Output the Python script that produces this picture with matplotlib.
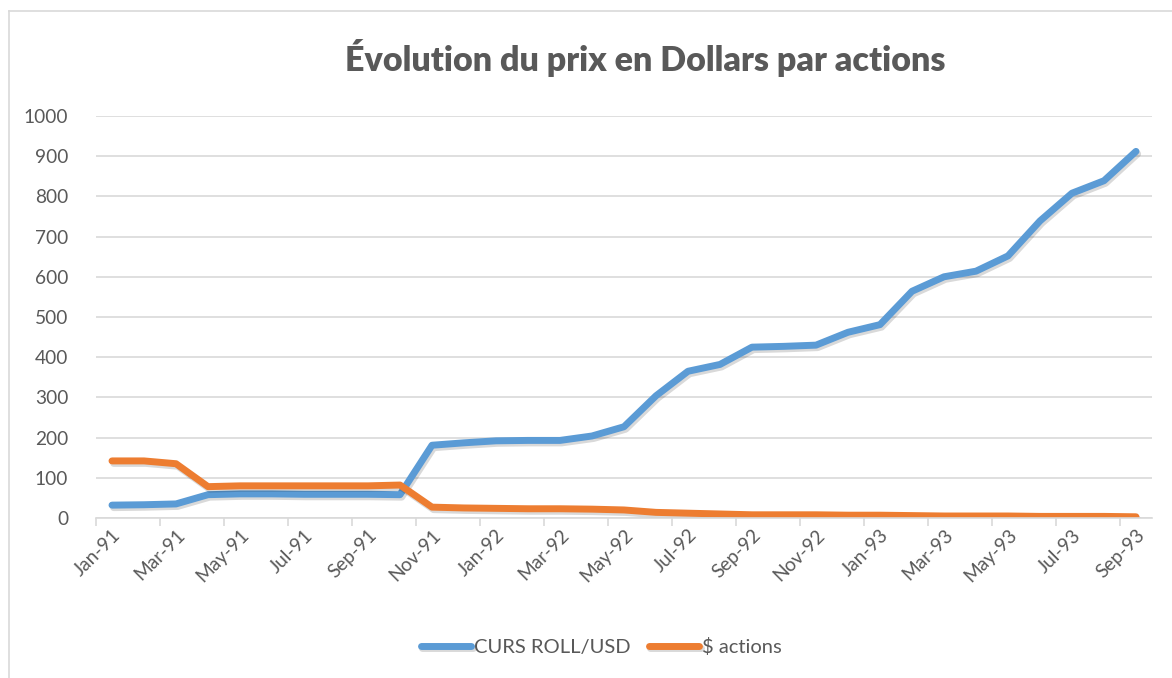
import numpy as np
import matplotlib
matplotlib.use('Agg')
import matplotlib.pyplot as plt
import matplotlib.patheffects as pe
from matplotlib.lines import Line2D

# Data
months = ['Jan-91', 'Feb-91', 'Mar-91', 'Apr-91', 'May-91', 'Jun-91', 'Jul-91', 'Aug-91',
          'Sep-91', 'Oct-91', 'Nov-91', 'Dec-91', 'Jan-92', 'Feb-92', 'Mar-92', 'Apr-92',
          'May-92', 'Jun-92', 'Jul-92', 'Aug-92', 'Sep-92', 'Oct-92', 'Nov-92', 'Dec-92',
          'Jan-93', 'Feb-93', 'Mar-93', 'Apr-93', 'May-93', 'Jun-93', 'Jul-93', 'Aug-93',
          'Sep-93']
curs_roll_usd = [32, 33, 35, 58, 60, 60, 59, 59, 59, 58, 181, 187, 192, 193, 193, 204,
                 227, 304, 365, 382, 425, 427, 430, 462, 481, 564, 600, 614, 652, 739,
                 808, 839, 912]
dollar_actions = [142, 142, 135, 78, 80, 80, 80, 80, 80, 82, 27, 25, 24, 23, 23, 22,
                  20, 14, 12, 10, 8, 8, 8, 7, 7, 6, 5, 5, 5, 4, 4, 4, 3]

series_names = ['CURS ROLL/USD', '$ actions']
colors = ['#5B9BD5', '#ED7D31']
text_color = '#595959'
grid_color = '#D9D9D9'

plt.rcParams['font.family'] = ['Lato', 'DejaVu Sans']

fig = plt.figure(figsize=(11.72, 6.78), dpi=100)
ax = fig.add_axes([96 / 1172, 1 - 518 / 678, 1056 / 1172, 402 / 678])

x = np.arange(len(months))
shadow = [pe.SimpleLineShadow(offset=(1.2, -1.8), shadow_color='black', alpha=0.15),
          pe.Normal()]
for vals, name, c in zip([curs_roll_usd, dollar_actions], series_names, colors):
    ax.plot(x, vals, color=c, lw=5, solid_capstyle='round', solid_joinstyle='round',
            label=name, path_effects=shadow)

ax.set_xlim(-0.5, len(months) - 0.5)
ax.set_ylim(0, 1000)
ax.set_yticks(range(0, 1001, 100))
ax.grid(axis='y', color=grid_color, lw=1.2)
ax.set_axisbelow(True)

ax.set_xticks(x[::2])
ax.set_xticklabels(months[::2], rotation=45, ha='right', va='top', rotation_mode='anchor')
ax.set_xticks(np.arange(-0.5, len(months) - 1, 2), minor=True)
ax.tick_params(axis='x', which='major', length=0, pad=6, labelsize=13.8, labelcolor=text_color)
ax.tick_params(axis='x', which='minor', length=6, width=1.2, color=grid_color)
ax.tick_params(axis='y', length=0, pad=20, labelsize=13.8, labelcolor=text_color)

for s in ['left', 'right', 'top']:
    ax.spines[s].set_visible(False)
ax.spines['bottom'].set_color(grid_color)
ax.spines['bottom'].set_linewidth(1.2)

fig.text(645 / 1172, 1 - 58 / 678, 'Évolution du prix en Dollars par actions', ha='center',
         va='center', fontsize=24.5, fontweight='heavy', color=text_color)

leg = fig.legend(loc='center', bbox_to_anchor=(0.513, 1 - 647 / 678), ncol=2,
                 frameon=False, fontsize=14.5, handlelength=2.5, handletextpad=0.15,
                 columnspacing=0.9, labelcolor=text_color)

# chart area border (only top and left visible in the reference)
fig.add_artist(Line2D([9 / 1172, 9 / 1172], [0, 1 - 11 / 678], color=grid_color, lw=1.2))
fig.add_artist(Line2D([9 / 1172, 1], [1 - 11 / 678, 1 - 11 / 678], color=grid_color, lw=1.2))

fig.savefig('out.png', dpi=100)
